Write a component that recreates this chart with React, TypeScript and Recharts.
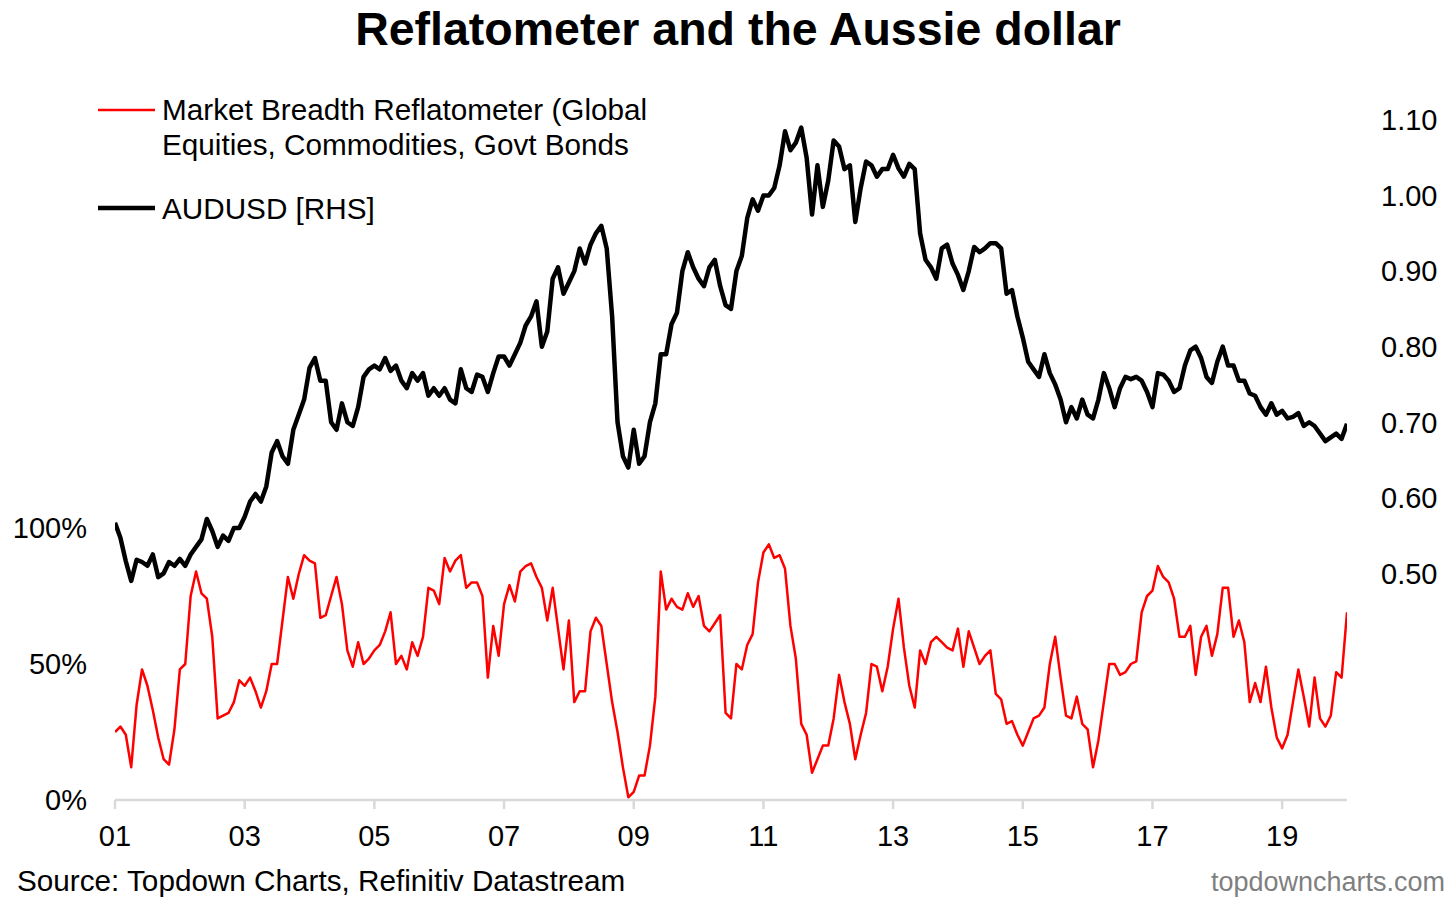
import React from "react";
import { LineChart, Line, XAxis, YAxis } from "recharts";

const FONT = '"Liberation Sans", Arial, Helvetica, sans-serif';

const startYear = 2001;
const xTicks = [2001, 2003, 2005, 2007, 2009, 2011, 2013, 2015, 2017, 2019];
const leftTicks = [0, 50, 100];
const rightTicks = [0.5, 0.6, 0.7, 0.8, 0.9, 1.0, 1.1];

// AUDUSD, monthly from Jan 2001 (last point Jan 2020)
const audusd = [
  0.567, 0.547, 0.516, 0.49, 0.518, 0.515, 0.51, 0.525, 0.495, 0.5, 0.515, 0.51,
  0.519, 0.51, 0.525, 0.535, 0.545, 0.572, 0.556, 0.535, 0.55, 0.543, 0.56, 0.56,
  0.575, 0.595, 0.605, 0.595, 0.615, 0.66, 0.675, 0.655, 0.645, 0.69, 0.71, 0.73,
  0.772, 0.785, 0.755, 0.755, 0.7, 0.69, 0.725, 0.7, 0.695, 0.72, 0.76, 0.77,
  0.775, 0.77, 0.785, 0.768, 0.775, 0.755, 0.745, 0.765, 0.755, 0.765, 0.735, 0.745,
  0.735, 0.745, 0.73, 0.725, 0.77, 0.745, 0.74, 0.763, 0.76, 0.74, 0.765, 0.787,
  0.787, 0.775, 0.79, 0.805, 0.828, 0.84, 0.86, 0.8, 0.82, 0.89, 0.905, 0.87,
  0.885, 0.9, 0.93, 0.91, 0.935, 0.95, 0.96, 0.93, 0.84, 0.7, 0.655, 0.64,
  0.69, 0.645, 0.655, 0.7, 0.725, 0.79, 0.79, 0.83, 0.845, 0.9, 0.925, 0.905,
  0.89, 0.88, 0.905, 0.915, 0.88, 0.855, 0.85, 0.9, 0.92, 0.97, 0.995, 0.98,
  1.0, 1.0, 1.01, 1.04, 1.085, 1.06, 1.07, 1.09, 1.05, 0.975, 1.04, 0.985,
  1.02, 1.073, 1.065, 1.035, 1.04, 0.965, 1.01, 1.045, 1.04, 1.025, 1.035, 1.035,
  1.054, 1.036, 1.025, 1.042, 1.035, 0.95, 0.915, 0.905, 0.89, 0.93, 0.935, 0.91,
  0.895, 0.875, 0.9, 0.932, 0.925, 0.93, 0.937, 0.937, 0.93, 0.87, 0.875, 0.84,
  0.812, 0.78, 0.77, 0.76, 0.79, 0.765, 0.75, 0.73, 0.7, 0.72, 0.705, 0.73,
  0.71, 0.705, 0.73, 0.765, 0.745, 0.72, 0.745, 0.76, 0.757, 0.76, 0.755, 0.74,
  0.72, 0.765, 0.763, 0.755, 0.74, 0.745, 0.775, 0.795, 0.8, 0.785, 0.76, 0.752,
  0.78, 0.8, 0.775, 0.775, 0.755, 0.755, 0.738, 0.735, 0.72, 0.71, 0.725, 0.71,
  0.715, 0.705, 0.707, 0.712, 0.695, 0.7, 0.695, 0.685, 0.675, 0.68, 0.685, 0.678,
  0.698,
];

// Market Breadth Reflatometer, % (same months)
const reflatometer = [
  25, 27, 24, 12, 35, 48, 42, 33, 23, 15, 13, 26,
  48, 50, 75, 84, 76, 74, 60, 30, 31, 32, 36, 44,
  42, 45, 40, 34, 40, 50, 50, 66, 82, 74, 83, 90,
  88, 87, 67, 68, 75, 82, 72, 55, 49, 58, 50, 52,
  55, 57, 62, 69, 50, 53, 48, 58, 53, 60, 78, 77,
  72, 89, 84, 88, 90, 78, 80, 80, 75, 45, 64, 53,
  72, 79, 73, 84, 86, 87, 82, 78, 66, 78, 63, 48,
  66, 36, 40, 40, 62, 67, 64, 50, 36, 25, 12, 1,
  3, 9, 9, 20, 38, 84, 70, 74, 71, 70, 76, 71,
  75, 64, 62, 65, 68, 32, 30, 50, 48, 57, 61, 80,
  91, 94, 89, 90, 85, 64, 52, 28, 24, 10, 15, 20,
  20, 30, 46, 36, 28, 15, 24, 32, 50, 49, 40, 49,
  63, 74, 56, 42, 34, 55, 50, 58, 60, 58, 56, 55,
  63, 49, 62, 56, 50, 53, 55, 39, 37, 28, 29, 24,
  20, 25, 30, 31, 34, 50, 60, 45, 31, 30, 38, 28,
  26, 12, 22, 36, 50, 50, 46, 47, 50, 51, 69, 75,
  77, 86, 82, 80, 74, 60, 60, 64, 46, 60, 64, 53,
  61, 78, 78, 60, 66, 58, 36, 43, 36, 49, 34, 23,
  19, 24, 36, 48, 38, 27, 45, 30, 27, 31, 47, 45,
  69,
];

const chartData = audusd.map((aud, i) => ({
  t: startYear + i / 12,
  aud,
  refl: reflatometer[i],
}));

const tickStyle = { fill: "#000", fontSize: 29, fontFamily: FONT };

export default function App() {
  return (
    <div style={{ position: "absolute", left: 0, top: 0, width: 1452, height: 907, background: "#fff" }}>
      <LineChart
        width={1452}
        height={907}
        data={chartData}
        margin={{ top: 120, right: 15, bottom: 47, left: 35 }}
      >
        <XAxis
          dataKey="t"
          type="number"
          domain={[2001, 2020]}
          ticks={xTicks}
          allowDataOverflow
          height={60}
          tickFormatter={(v: number) => String(v % 100).padStart(2, "0")}
          tick={tickStyle}
          stroke="#d9d9d9"
          strokeWidth={2.5}
          tickSize={9}
          tickMargin={16}
        />
        <YAxis
          yAxisId="left"
          orientation="left"
          domain={[0, 250]}
          ticks={leftTicks}
          width={80}
          axisLine={false}
          tickLine={false}
          tickSize={0}
          tickMargin={28}
          tick={tickStyle}
          tickFormatter={(v: number) => `${v}%`}
        />
        <YAxis
          yAxisId="right"
          orientation="right"
          domain={[0.2, 1.1]}
          ticks={rightTicks}
          width={90}
          axisLine={false}
          tickLine={false}
          tickSize={0}
          tickMargin={34}
          tick={{ ...tickStyle, textAnchor: "start" }}
          tickFormatter={(v: number) => v.toFixed(2)}
        />
        <Line
          yAxisId="left"
          dataKey="refl"
          type="linear"
          stroke="#ff0000"
          strokeWidth={2.5}
          strokeLinejoin="round"
          dot={false}
          isAnimationActive={false}
        />
        <Line
          yAxisId="right"
          dataKey="aud"
          type="linear"
          stroke="#000000"
          strokeWidth={4.5}
          strokeLinejoin="round"
          dot={false}
          isAnimationActive={false}
        />
      </LineChart>

      <svg
        width={1452}
        height={907}
        style={{ position: "absolute", left: 0, top: 0, pointerEvents: "none" }}
        fontFamily={FONT}
      >
        <text x={738} y={45} textAnchor="middle" fontSize={46.5} fontWeight="bold" fill="#000">
          Reflatometer and the Aussie dollar
        </text>

        <line x1={98} x2={155} y1={110} y2={110} stroke="#ff0000" strokeWidth={2.5} />
        <text x={162} y={120} fontSize={29.7} fill="#000">
          Market Breadth Reflatometer (Global
        </text>
        <text x={162} y={155} fontSize={29.7} fill="#000">
          Equities, Commodities, Govt Bonds
        </text>
        <line x1={98} x2={155} y1={208} y2={208} stroke="#000" strokeWidth={4.5} />
        <text x={162} y={219} fontSize={29.7} fill="#000">
          AUDUSD [RHS]
        </text>

        <text x={17} y={891} fontSize={29.7} fill="#000">
          Source: Topdown Charts, Refinitiv Datastream
        </text>
        <text x={1445} y={891} textAnchor="end" fontSize={27} fill="#7f7f7f">
          topdowncharts.com
        </text>
      </svg>
    </div>
  );
}
